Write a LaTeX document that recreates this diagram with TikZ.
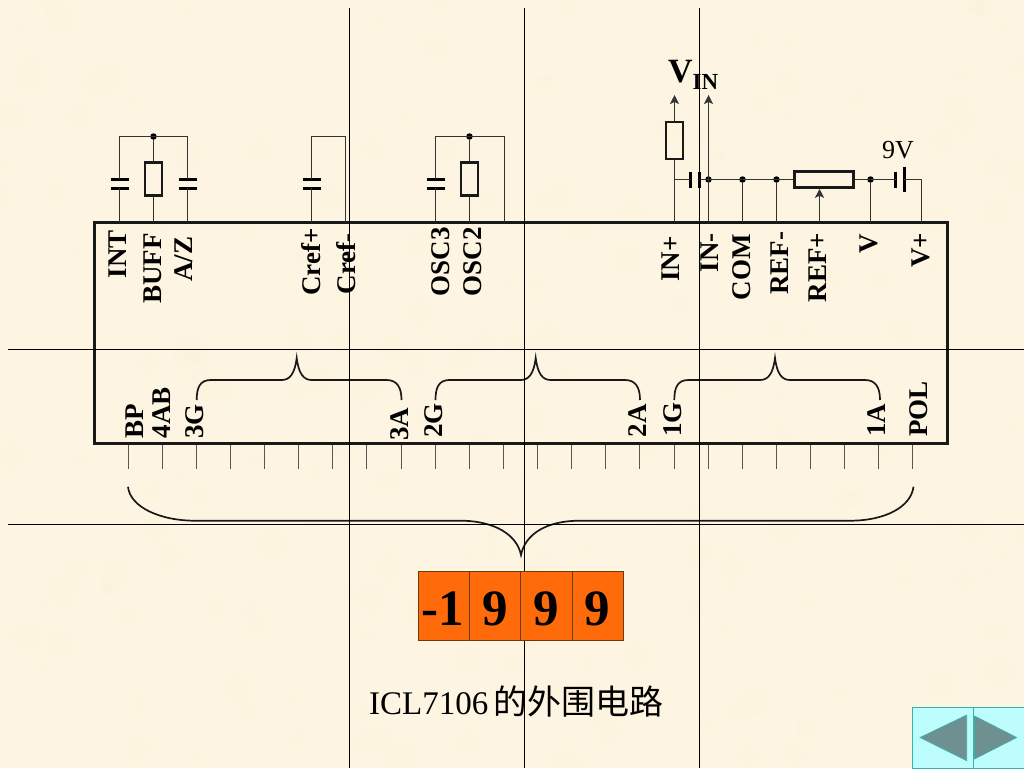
\documentclass[tikz,border=0pt]{standalone}
\usepackage{fontspec}
\setmainfont{Liberation Serif}
\newfontfamily\cjkfont{Noto Sans CJK SC}
\usetikzlibrary{arrows.meta}
\definecolor{paper}{HTML}{FDF5E1}
\definecolor{paperdark}{HTML}{F6E8C6}
\definecolor{paperlight}{HTML}{FFFAEE}
\definecolor{tickgray}{HTML}{5A5650}
\definecolor{digitorange}{HTML}{FF6A0A}
\definecolor{digitedge}{HTML}{6A3A10}
\definecolor{navfill}{HTML}{BDFDFD}
\definecolor{navedge}{HTML}{35B5A8}
\definecolor{navtri}{HTML}{6F9090}
\tikzset{
  x=1pt,y=-1pt,
  wire/.style={line width=1.5pt,draw=black!80},
  thin rule/.style={line width=1pt,draw=black},
  chip/.style={draw=black!90,line width=3pt,minimum width=853pt,minimum height=221pt,inner sep=0pt},
  res/.style={draw=black!90,line width=2.6pt,minimum width=17pt,minimum height=33pt,inner sep=0pt},
  pot/.style={draw=black!90,line width=2.6pt,minimum width=59pt,minimum height=16pt,inner sep=0pt},
  hplate/.style={fill=black,inner sep=0pt,minimum width=18pt,minimum height=3pt},
  vplate/.style={fill=black,inner sep=0pt,minimum width=3pt,minimum height=16pt},
  vlong/.style={fill=black,inner sep=0pt,minimum width=3.4pt,minimum height=25pt},
  dot/.style={circle,fill=black,inner sep=0pt,minimum size=6.5pt},
  pinlabel/.style={rotate=90,inner sep=0pt,font=\fontsize{27}{27}\selectfont\bfseries},
  toplabel/.style={pinlabel,anchor=base east},
  botlabel/.style={pinlabel,anchor=base west},
  tick/.style={line width=1.5pt,draw=tickgray},
  brace/.style={line width=1.7pt,draw=black!90},
  digit/.style={draw=digitedge,line width=1pt,fill=digitorange,minimum width=51.3pt,minimum height=68.3pt,inner sep=0pt},
  digittext/.style={inner sep=0pt,anchor=base,font=\fontsize{51}{51}\selectfont\bfseries},
  navbox/.style={draw=navedge,line width=1pt,fill=navfill},
  navshape/.style={draw=navedge,line width=.6pt,fill=navtri},
  arrowed/.style={-{Stealth[length=9pt,width=9pt,inset=2pt]}},
}
\newcommand{\smallbrace}[3]{% left, tip, right
  \draw[brace] (#1,400) .. controls (#1,388) and (#1+3,380) .. (#1+14,380)
    -- (#2-15,380) .. controls (#2-7,380) and (#2-2,374) .. (#2,358)
    .. controls (#2+2,374) and (#2+7,380) .. (#2+15,380)
    -- (#3-15,380) .. controls (#3-4,380) and (#3,388) .. (#3,400);
}
\begin{document}
\begin{tikzpicture}
\useasboundingbox (0,0) rectangle (1024,768);
\fill[paper] (0,0) rectangle (1024,768);
% fine paper mottling
\pgfmathsetseed{7106}
\foreach \i in {1,...,420}{
  \pgfmathsetmacro{\px}{random(0,1024)}
  \pgfmathsetmacro{\py}{random(0,768)}
  \pgfmathsetmacro{\pr}{random(5,16)}
  \pgfmathtruncatemacro{\pc}{mod(\i,2)}
  \ifnum\pc=0
    \fill[paperdark,fill opacity=.07] (\px,\py) circle[radius=\pr];
  \else
    \fill[paperlight,fill opacity=.09] (\px,\py) circle[radius=\pr];
  \fi
}
% guide rules
\coordinate (gv1t) at (349.5,8); \coordinate (gv1b) at (349.5,768);
\coordinate (gv2t) at (524.5,8);   \coordinate (gv2b) at (524.5,768);
\coordinate (gv3t) at (699.5,8); \coordinate (gv3b) at (699.5,768);
\coordinate (gh1l) at (8,349.5); \coordinate (gh1r) at (1024,349.5);
\coordinate (gh2l) at (8,524.5);   \coordinate (gh2r) at (1024,524.5);

% chip
\node[chip] (ic) at (520.5,332.5) {};

% top pins on chip edge
\foreach \n/\x in {INT/119.5,BUFF/153.5,AZ/187.5,Cp/311.5,Cm/345.5,OSCa/435.5,OSCb/469.5,OSCc/504.5,INp/674.5,INm/708.5,COM/742.5,REFm/776.5,REFp/819.5,Vm/870.5,Vp/921.5}
  \coordinate (p\n) at (\x,222);

% INT / BUFF / A-Z network
\coordinate (t1) at (119.5,136.5);
\node[dot] (d1) at (153.5,136.5) {};
\coordinate (t3) at (187.5,136.5);
\node[hplate] (c1a) at (119.5,179) {};
\node[hplate] (c1b) at (119.5,188) {};
\node[hplate] (c2a) at (187.5,179) {};
\node[hplate] (c2b) at (187.5,188) {};
\node[res] (r1) at (153.5,179.2) {};
\draw[wire] (pINT) -- (c1b.center);
\draw[wire] (c1a.center) -- (t1) -- (t3) -- (c2a.center);
\draw[wire] (c2b.center) -- (pAZ);
\draw[wire] (d1) -- (r1.north);
\draw[wire] (r1.south) -- (pBUFF);

% Cref
\coordinate (t4) at (311.5,136.5);
\coordinate (t5) at (345.5,136.5);
\node[hplate] (c3a) at (311.5,179) {};
\node[hplate] (c3b) at (311.5,188) {};
\draw[wire] (pCp) -- (c3b.center);
\draw[wire] (c3a.center) -- (t4) -- (t5) -- (pCm);

% OSC
\coordinate (t6) at (435.5,136.5);
\node[dot] (d2) at (469.5,136.5) {};
\coordinate (t7) at (504.5,136.5);
\node[hplate] (c4a) at (435.5,179) {};
\node[hplate] (c4b) at (435.5,188) {};
\node[res] (r2) at (469.5,179.2) {};
\draw[wire] (pOSCa) -- (c4b.center);
\draw[wire] (c4a.center) -- (t6) -- (t7) -- (pOSCc);
\draw[wire] (d2) -- (r2.north);
\draw[wire] (r2.south) -- (pOSCb);

% right network
\node[res,minimum height=37pt] (r3) at (674.5,140.5) {};
\coordinate (a1) at (674.5,95);
\coordinate (a2) at (708.5,95);
\coordinate (n1) at (674.5,179.5);
\node[vplate] (c5a) at (690,179.5) {};
\node[vplate] (c5b) at (699,179.5) {};
\node[dot] (d3) at (708.5,179.5) {};
\node[dot] (d4) at (742.5,179.5) {};
\node[dot] (d5) at (776.5,179.5) {};
\node[pot] (r4) at (823.7,179.5) {};
\node[dot] (d6) at (870.5,179.5) {};
\node[vplate] (b1) at (895.7,179.5) {};
\node[vlong] (b2) at (904.3,179.5) {};
\coordinate (n2) at (921.5,179.5);
\draw[wire,arrowed] (r3.north) -- (a1);
\draw[wire,arrowed] (pINm) -- (a2);
\draw[wire] (pINp) -- (r3.south);
\draw[wire] (n1) -- (c5a.center);
\draw[wire] (c5b.center) -- (r4.west);
\draw[wire] (d4) -- (pCOM);
\draw[wire] (d5) -- (pREFm);
\draw[wire,arrowed] (pREFp) -- (r4.south -| pREFp);
\draw[wire] (r4.east) -- (b1.center);
\draw[wire] (d6) -- (pVm);
\draw[wire] (b2.center) -- (n2) -- (pVp);

% ticks, snapped to the pixel grid
\foreach \k in {0,...,23}{
  \pgfmathsetmacro{\tx}{floor(128+\k*34.13)+0.5}
  \coordinate (ta\k) at (\tx,445);
  \coordinate (tb\k) at (\tx,469);
  \draw[tick] (ta\k) -- (tb\k);
}

% braces
\smallbrace{196.7}{296.7}{401.5}
\smallbrace{435.5}{535.7}{640}
\smallbrace{674.3}{775}{880}
\draw[brace] (128,486.7) .. controls (130,507) and (160,520.7) .. (195,520.7)
  -- (460,520.7) .. controls (495,520.7) and (517,535) .. (521,555)
  .. controls (525,535) and (545,520.7) .. (580,520.7)
  -- (850,520.7) .. controls (885,520.7) and (911,507) .. (913.5,486.7);

% guide rules on top
\draw[thin rule] (gv1t) -- (gv1b);
\draw[thin rule] (gv2t) -- (gv2b);
\draw[thin rule] (gv3t) -- (gv3b);
\draw[thin rule] (gh1l) -- (gh1r);
\draw[thin rule] (gh2l) -- (gh2r);

% top labels
\node[toplabel] (lINT) at (126,230) {INT};
\node[toplabel] (lBUFF) at (161,233) {BUFF};
\node[toplabel] (lAZ) at (192.7,236.7) {A/Z};
\node[toplabel] (lCp) at (320.7,228) {Cref+};
\node[toplabel] (lCm) at (355,233) {Cref-};
\node[toplabel] (lOa) at (449,227) {OSC3};
\node[toplabel] (lOb) at (481,227) {OSC2};
\node[toplabel] (lINp) at (679.3,236) {IN+};
\node[toplabel] (lINm) at (718,233) {IN-};
\node[toplabel] (lCOM) at (750,234) {COM};
\node[toplabel] (lRm) at (788,231.7) {REF-};
\node[toplabel] (lRp) at (826,232.7) {REF+};
\node[toplabel] (lV) at (877.7,234) {V};
\node[toplabel] (lVp) at (929,232.7) {V+};

% bottom labels
\node[botlabel] (lBP) at (143.3,438.3) {BP};
\node[botlabel] (l4AB) at (170,438.3) {4AB};
\node[botlabel] (l3G) at (203.3,439) {3G};
\node[botlabel] (l3A) at (408,440.7) {3A};
\node[botlabel] (l2G) at (442.7,438) {2G};
\node[botlabel] (l2A) at (646.7,437.3) {2A};
\node[botlabel] (l1G) at (681,437) {1G};
\node[botlabel] (l1A) at (885,437) {1A};
\node[botlabel] (lPOL) at (927.3,437) {POL};

% VIN and 9V
\node[inner sep=0pt,anchor=base west,font=\fontsize{34}{34}\selectfont\bfseries] (vin) at (668,82) {V};
\node[inner sep=0pt,anchor=base west,font=\fontsize{23}{23}\selectfont\bfseries] (vinsub) at (692.5,89.3) {IN};
\node[inner sep=0pt,anchor=base,font=\fontsize{26}{26}\selectfont] (nine) at (898,158) {9V};

% digits
\node[digit] (n1d) at (444,606) {};
\node[digit] (n2d) at (495.3,606) {};
\node[digit] (n3d) at (546.6,606) {};
\node[digit] (n4d) at (597.9,606) {};
\node[digittext] (t1d) at (443,625) {-1};
\node[digittext] (t2d) at (495,625) {9};
\node[digittext] (t3d) at (546,625) {9};
\node[digittext] (t4d) at (597,625) {9};

% caption
\node[inner sep=0pt,anchor=base west,font=\fontsize{33}{33}\selectfont] (cap) at (369,714) {ICL7106\hspace{5pt}{\cjkfont\fontsize{34}{34}\selectfont 的外围电路}};

% nav buttons
\coordinate (nv1) at (912.5,707.5); \coordinate (nv2) at (973.5,768);
\coordinate (nv3) at (1024,707.5);
\draw[navbox] (nv1) rectangle (nv2);
\draw[navbox] (nv2) rectangle (nv3);
\draw[navshape] (920,737.5) -- (966.7,715) -- (966.7,760.7) -- cycle;
\draw[navshape] (974.5,716) -- (1016.7,737.5) -- (974.5,759) -- cycle;
\end{tikzpicture}
\end{document}
